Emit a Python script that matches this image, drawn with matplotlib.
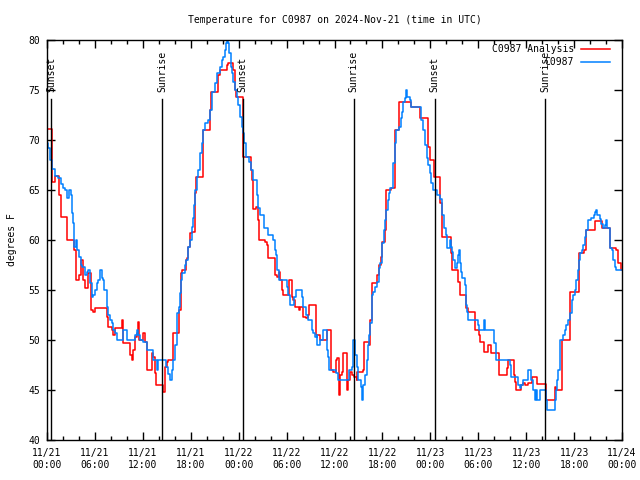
import matplotlib
matplotlib.use("Agg")
import matplotlib.pyplot as plt
import matplotlib.dates as mdates
import pandas as pd

start = pd.Timestamp("2024-11-21 00:00")

# C0987 observations (hours since start, deg F)
obs_hours = [0.0, 0.17, 0.38, 0.58, 1.0, 1.42, 1.71, 2.04, 2.25, 2.46, 2.79, 2.96, 3.09, 3.3, 3.42, 3.63,
             3.8, 4.05, 4.21, 4.42, 4.76, 4.96, 5.17, 5.38, 5.59, 5.8, 6.0, 6.22, 6.42, 6.63, 6.84, 7.05,
             7.17, 7.47, 7.68, 7.88, 8.09, 8.3, 8.51, 8.8, 9.55, 10.05, 11.0, 11.22, 11.43, 11.64, 12.05,
             12.47, 13.3, 13.72, 13.93, 14.9, 15.19, 15.4, 15.6, 15.81, 16.02, 16.23, 16.31, 16.52, 16.65,
             16.77, 16.86, 17.27, 17.4, 17.69, 17.9, 18.11, 18.32, 18.44, 18.57, 18.73, 18.94, 19.15,
             19.36, 19.57, 19.77, 20.19, 20.4, 20.61, 21.02, 21.24, 21.65, 21.86, 22.07, 22.28, 22.4,
             22.57, 22.7, 22.82, 22.99, 23.11, 23.32, 23.53, 23.74, 23.95, 24.16, 24.37, 24.49, 24.66,
             24.91, 25.33, 25.5, 25.83, 26.24, 26.45, 26.66, 27.16, 27.7, 28.33, 28.53, 28.66, 28.83,
             29.08, 30.0, 30.2, 30.41, 30.96, 31.16, 31.95, 32.08, 32.41, 32.71, 33.13, 33.33, 33.54,
             33.75, 33.83, 34.17, 34.5, 35.08, 35.21, 35.34, 36.17, 36.5, 37.84, 38.13, 38.26, 38.34,
             38.55, 38.76, 38.97, 39.26, 39.43, 39.6, 39.8, 40.01, 40.14, 40.3, 40.43, 40.64, 40.84,
             41.05, 41.35, 41.55, 41.68, 41.89, 42.01, 42.18, 42.3, 42.43, 42.72, 42.85, 43.01, 43.35,
             43.55, 43.76, 44.1, 44.3, 44.47, 44.6, 44.8, 45.01, 45.14, 45.43, 45.64, 46.89, 47.1,
             47.31, 47.52, 47.73, 47.94, 48.14, 48.35, 48.8, 49.19, 49.4, 49.52, 49.69, 50.02, 50.1,
             50.44, 50.65, 50.77, 50.86, 51.15, 51.36, 51.48, 51.61, 51.77, 51.9, 52.02, 52.31, 52.44,
             52.61, 52.73, 53.92, 54.13, 54.73, 54.81, 55.98, 56.19, 56.28, 57.95, 58.16, 58.99, 59.2,
             59.4, 59.61, 60.24, 60.66, 60.87, 61.08, 61.2, 61.37, 61.7, 62.45, 62.62, 63.58, 63.71,
             63.87, 64.0, 64.2, 64.29, 64.62, 64.83, 65.04, 65.25, 65.54, 65.75, 65.88, 66.09, 66.3,
             66.51, 66.63, 66.72, 66.93, 67.13, 67.34, 67.55, 67.76, 68.17, 68.47, 68.59, 68.8, 68.88,
             69.22, 69.43, 69.63, 69.84, 70.05, 70.14, 70.47, 70.55, 70.8, 70.89, 71.1, 71.22, 72.0]
obs_temp = [69.7, 69.2, 68.0, 67.1, 66.4, 66.2, 65.6, 65.2, 65.0, 64.2, 65.0, 64.5, 62.7, 61.7, 59.3, 60.0,
            59.0, 58.3, 57.5, 57.3, 56.5, 56.8, 57.0, 55.7, 54.3, 54.5, 55.0, 55.7, 56.0, 57.0, 56.2, 56.0,
            55.0, 53.3, 52.5, 52.0, 51.7, 51.0, 50.7, 50.0, 51.0, 50.0, 50.5, 51.0, 50.5, 50.0, 49.8,
            49.0, 48.0, 47.0, 48.0, 47.3, 46.6, 46.0, 47.0, 48.0, 49.5, 51.0, 52.7, 53.3, 54.7,
            56.0, 56.7, 57.5, 58.0, 59.3, 60.0, 61.3, 62.2, 63.5, 65.0, 66.3, 67.0, 68.7,
            69.7, 71.0, 71.7, 72.0, 73.0, 74.8, 75.7, 76.7, 77.3, 78.0, 78.3, 79.0, 79.7,
            80.5, 79.7, 78.7, 77.3, 76.7, 75.8, 75.0, 74.3, 73.5, 72.3, 71.3, 70.7, 69.7,
            68.3, 67.8, 67.0, 66.0, 64.5, 63.2, 62.5, 61.2, 60.5, 60.0, 59.0, 58.5, 57.0,
            56.0, 55.3, 54.5, 53.5, 54.3, 55.0, 54.3, 53.3, 52.5, 52.0, 51.0, 50.7, 50.3,
            50.5, 49.5, 50.0, 51.0, 49.0, 48.3, 47.0, 46.7, 46.0, 47.0, 47.3, 49.0, 50.0,
            48.5, 47.3, 46.0, 45.3, 44.0, 45.5, 46.5, 48.0, 49.5, 50.5, 51.7, 54.5, 54.8,
            55.3, 55.8, 57.2, 57.7, 59.0, 59.7, 61.0, 62.0, 63.0, 64.0, 64.7, 65.2, 67.7,
            69.7, 71.0, 71.3, 72.2, 72.8, 73.8, 74.2, 75.0, 74.3, 74.0, 73.3, 72.0, 71.0,
            69.5, 68.2, 67.5, 66.7, 65.7, 65.0, 64.5, 64.1, 63.7, 62.5, 61.2, 60.5, 59.2,
            60.0, 59.3, 58.8, 58.0, 57.2, 57.7, 58.5, 59.0, 57.7, 56.8, 56.2, 55.5, 53.5,
            52.8, 52.0, 51.5, 51.0, 52.0, 51.0, 49.7, 49.0, 48.0, 47.5, 46.3, 45.5, 45.2,
            45.5, 46.0, 47.0, 46.0, 45.0, 44.0, 45.0, 44.0, 45.0, 44.0, 43.0, 44.0, 45.0,
            46.0, 47.0, 49.0, 50.0, 50.5, 51.0, 51.5, 52.0, 52.7, 54.0, 54.5, 55.0, 56.0,
            57.0, 58.0, 58.7, 59.0, 59.5, 60.3, 61.0, 62.0, 62.2, 62.5, 62.8, 63.0, 62.5,
            62.1, 61.6, 61.2, 61.5, 62.0, 61.2, 60.3, 59.2, 59.0, 58.0, 57.3, 57.0, 57.0]

# C0987 Analysis
ana_hours = [0.0, 0.58, 1.0, 1.54, 1.71, 2.46, 3.42, 3.59, 4.05, 4.21, 4.55, 4.76, 5.17, 5.5, 5.8, 6.0,
             7.47, 7.68, 8.09, 8.3, 8.51, 9.34, 9.55, 10.38, 10.59, 10.8, 11.01, 11.22, 11.43, 11.55,
             12.05, 12.26, 12.47, 13.1, 13.31, 13.51, 13.64, 14.56, 14.77, 14.97, 15.19, 15.81, 16.56,
             16.73, 16.86, 17.4, 17.52, 17.65, 17.9, 18.11, 18.53, 18.65, 19.48, 20.4, 20.53, 21.44,
             21.65, 22.57, 22.7, 23.32, 23.53, 23.65, 24.53, 25.5, 25.62, 25.74, 26.16, 26.45, 26.57,
             27.28, 27.57, 27.7, 28.49, 28.74, 29.08, 29.16, 29.37, 29.58, 30.33, 30.62, 30.75, 31.04,
             31.58, 31.66, 32.08, 32.41, 32.71, 32.79, 33.67, 33.96, 34.17, 35.08, 35.5, 35.75, 36.25,
             36.34, 36.55, 36.67, 37.0, 37.09, 37.42, 37.59, 37.71, 37.92, 38.17, 38.46, 38.76, 38.84,
             39.51, 39.68, 40.35, 40.43, 40.64, 41.35, 41.55, 41.76, 41.89, 42.3, 42.51, 43.13, 43.55,
             44.1, 45.64, 46.68, 47.73, 48.02, 48.48, 49.19, 49.52, 50.65, 50.77, 51.48, 51.69, 52.52,
             52.73, 53.55, 54.1, 54.27, 54.73, 55.23, 55.56, 56.61, 57.61, 57.74, 58.45, 58.57, 58.78,
             59.41, 59.61, 59.82, 60.24, 60.78, 61.37, 62.54, 63.58, 63.79, 64.54, 65.54, 66.59, 67.22,
             67.55, 68.59, 69.55, 70.55, 71.3, 71.51, 71.85, 72.0]
ana_temp = [71.1, 65.8, 66.4, 64.5, 62.3, 60.0, 59.0, 56.0, 56.5, 58.0, 56.0, 55.2, 56.7, 53.0, 52.8, 53.2,
            52.3, 51.3, 51.0, 50.5, 51.2, 52.0, 49.7, 48.5, 48.0, 49.0, 50.3, 50.7, 51.8, 50.0,
            50.7, 49.8, 47.0, 48.7, 48.3, 46.7, 45.5, 44.8, 47.3, 47.8, 48.0, 50.7, 53.0,
            56.7, 57.0, 58.0, 58.2, 59.3, 60.7, 60.8, 64.7, 66.3, 71.0, 73.0, 74.8, 76.5,
            77.0, 77.5, 77.7, 77.0, 75.0, 74.3, 68.3, 67.0, 66.0, 63.1, 63.3, 62.0, 60.0,
            59.8, 59.5, 58.2, 56.5, 56.3, 56.8, 56.0, 55.0, 54.5, 56.0, 54.3, 54.0, 53.3,
            53.0, 53.3, 52.3, 52.2, 52.5, 53.5, 50.5, 50.5, 50.0, 51.0, 47.0, 46.8, 48.0,
            48.2, 44.5, 46.5, 46.8, 48.7, 48.7, 45.0, 46.0, 46.8, 46.5, 46.3, 46.0, 46.8,
            47.0, 49.8, 49.5, 52.0, 55.7, 56.5, 57.5, 58.3, 59.8, 61.0, 65.0, 65.2, 71.0,
            73.8, 73.3, 72.2, 69.3, 68.0, 66.3, 63.7, 60.3, 58.7, 57.0, 55.8, 54.5, 53.2,
            52.8, 51.0, 50.5, 49.8, 48.8, 49.5, 48.7, 46.5, 47.2, 48.0, 46.5, 45.8, 45.0,
            45.5, 45.7, 45.5, 45.7, 46.3, 45.6, 44.0, 45.3, 45.0, 50.0, 54.8, 58.7, 59.0,
            61.0, 61.9, 61.2, 59.2, 59.0, 57.7, 57.0, 57.0]

# sunrise / sunset times (hours since start)
sun_hours = [0.55, 14.41, 24.52, 38.41, 48.53, 62.41]
sun_labels = ["Sunset", "Sunrise", "Sunset", "Sunrise", "Sunset", "Sunrise"]

obs_t = [start + pd.Timedelta(hours=h) for h in obs_hours]
ana_t = [start + pd.Timedelta(hours=h) for h in ana_hours]
sun_t = [start + pd.Timedelta(hours=h) for h in sun_hours]

plt.rcParams['font.family'] = ['DejaVu Sans Mono']
plt.rcParams['font.size'] = 7

fig = plt.figure(figsize=(6.4, 4.8), dpi=100)
ax = fig.add_axes([47 / 640, 40 / 480, 575 / 640, 400 / 480])

ax.plot(ana_t, ana_temp, drawstyle='steps-post', color='#ff0000', lw=1.1)
ax.plot(obs_t, obs_temp, drawstyle='steps-post', color='#0080ff', lw=1.1)

for t, lab in zip(sun_t, sun_labels):
    ax.plot([t, t], [40, 74.1], color='black', lw=1)
    ax.text(t, 74.8, lab, rotation=90, ha='center', va='bottom', fontsize=7)

ax.set_xlim(start, start + pd.Timedelta(hours=72))
ax.set_ylim(40, 80)
ax.set_yticks(range(40, 81, 5))
ax.xaxis.set_major_locator(mdates.HourLocator(byhour=[0, 6, 12, 18]))
ax.xaxis.set_minor_locator(mdates.HourLocator(interval=2))
ax.xaxis.set_major_formatter(mdates.DateFormatter('%m/%d\n%H:%M'))
ax.tick_params(which='major', direction='in', length=6, width=1, top=True, right=True, pad=6, labelsize=7)
ax.tick_params(which='minor', direction='in', length=3, width=1, top=True, right=False)
ax.tick_params(axis='y', pad=5)
for s in ax.spines.values():
    s.set_linewidth(1)

ax.set_title("Temperature for C0987 on 2024-Nov-21 (time in UTC)", fontsize=7, pad=12)
ax.set_ylabel("degrees F", fontsize=7, labelpad=8)

# legend drawn gnuplot style (text right-aligned, sample to the right)
tr = ax.transAxes
ax.text(0.9165, 0.9775, "C0987 Analysis", transform=tr, ha='right', va='center', fontsize=7)
ax.plot([0.9287, 0.979], [0.9775, 0.9775], transform=tr, color='#ff0000', lw=1.1)
ax.text(0.9165, 0.945, "C0987", transform=tr, ha='right', va='center', fontsize=7)
ax.plot([0.9287, 0.979], [0.945, 0.945], transform=tr, color='#0080ff', lw=1.1)

fig.savefig("out.png", dpi=100)
